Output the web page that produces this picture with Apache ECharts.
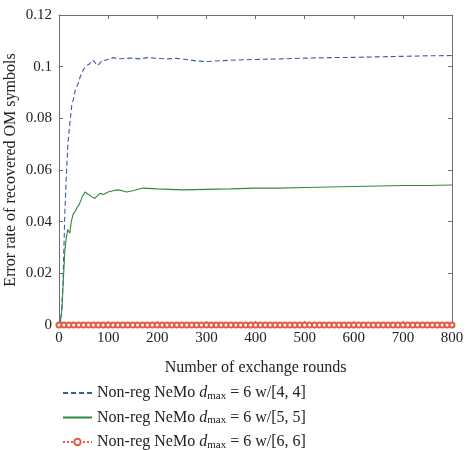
<!DOCTYPE html>
<html>
<head>
<meta charset="utf-8">
<script src="https://cdn.jsdelivr.net/npm/echarts@6/dist/echarts.min.js"></script>
<style>
  html, body { margin: 0; padding: 0; background: #fff; }
  #chart { width: 473px; height: 450px; }
</style>
</head>
<body>
<div id="chart"></div>
<script>
// rounds (x) and error rate (y)
const blueX = [0, 4, 8, 12, 15, 18, 22, 26, 30, 33, 38, 43, 50, 57, 62, 67, 72, 77, 82, 88, 95, 102, 110, 120, 135, 150, 165, 180, 200, 220, 240, 260, 280, 300, 320, 350, 400, 450, 500, 550, 600, 650, 700, 750, 800]
const blueY = [0, 0.001, 0.016, 0.044, 0.058, 0.07, 0.078, 0.085, 0.088, 0.091, 0.093, 0.096, 0.099, 0.1005, 0.101, 0.1025, 0.102, 0.1005, 0.101, 0.1025, 0.1025, 0.103, 0.1035, 0.103, 0.1032, 0.1033, 0.103, 0.1035, 0.1032, 0.103, 0.1032, 0.1028, 0.1022, 0.102, 0.1022, 0.1025, 0.1028, 0.103, 0.1033, 0.1035, 0.1036, 0.1038, 0.104, 0.1042, 0.1043]

const greenX = [0, 3, 6, 9, 12, 15, 18, 22, 25, 29, 33, 37, 42, 47, 50, 53, 57, 60, 63, 68, 73, 78, 84, 90, 100, 110, 118, 128, 138, 150, 171, 200, 253, 300, 350, 400, 450, 500, 550, 600, 650, 700, 750, 800]
const greenY = [0, 0.002, 0.006, 0.018, 0.029, 0.034, 0.037, 0.0355, 0.04, 0.043, 0.044, 0.0455, 0.047, 0.0495, 0.05, 0.0515, 0.051, 0.0505, 0.05, 0.0495, 0.049, 0.05, 0.051, 0.0505, 0.0515, 0.052, 0.0523, 0.052, 0.0515, 0.052, 0.053, 0.0527, 0.0523, 0.0525, 0.0527, 0.053, 0.053, 0.0532, 0.0534, 0.0536, 0.0538, 0.054, 0.054, 0.0542]

const redX = [0, 10, 20, 30, 40, 50, 60, 70, 80, 90, 100, 110, 120, 130, 140, 150, 160, 170, 180, 190, 200, 210, 220, 230, 240, 250, 260, 270, 280, 290, 300, 310, 320, 330, 340, 350, 360, 370, 380, 390, 400, 410, 420, 430, 440, 450, 460, 470, 480, 490, 500, 510, 520, 530, 540, 550, 560, 570, 580, 590, 600, 610, 620, 630, 640, 650, 660, 670, 680, 690, 700, 710, 720, 730, 740, 750, 760, 770, 780, 790, 800]
const redY = [0, 0, 0, 0, 0, 0, 0, 0, 0, 0, 0, 0, 0, 0, 0, 0, 0, 0, 0, 0, 0, 0, 0, 0, 0, 0, 0, 0, 0, 0, 0, 0, 0, 0, 0, 0, 0, 0, 0, 0, 0, 0, 0, 0, 0, 0, 0, 0, 0, 0, 0, 0, 0, 0, 0, 0, 0, 0, 0, 0, 0, 0, 0, 0, 0, 0, 0, 0, 0, 0, 0, 0, 0, 0, 0, 0, 0, 0, 0, 0, 0]

const seriesNames = ['[4, 4]', '[5, 5]', '[6, 6]']

const pairs = (xs, ys) => xs.map((x, i) => [x, ys[i]])

const font = '"Liberation Serif", "DejaVu Serif", serif'
const axisColor = '#707070'
const textColor = '#222'

const chart = echarts.init(document.getElementById('chart'))

const boxAxis = {
  type: 'value',
  axisLine: { show: true, onZero: false, lineStyle: { color: axisColor, width: 1 } },
  axisTick: { show: true, inside: true, length: 4, lineStyle: { color: axisColor } },
  axisLabel: { show: false },
  splitLine: { show: false },
}

const option = {
  animation: false,
  backgroundColor: '#fff',
  textStyle: { fontFamily: font },
  grid: {
    left: 59,
    right: 21,
    top: 15,
    bottom: 125,
    outerBoundsMode: 'none',
    containLabel: false,
  },
  xAxis: [
    {
      type: 'value',
      min: 0,
      max: 800,
      interval: 100,
      name: 'Number of exchange rounds',
      nameLocation: 'middle',
      nameGap: 35,
      nameTextStyle: { color: textColor, fontSize: 16, fontFamily: font },
      axisLine: { show: true, onZero: false, lineStyle: { color: axisColor, width: 1 } },
      axisTick: { show: true, inside: true, length: 4, lineStyle: { color: axisColor } },
      axisLabel: { color: textColor, fontSize: 15, fontFamily: font, margin: 6 },
      splitLine: { show: false },
    },
    Object.assign({}, boxAxis, { position: 'top', min: 0, max: 800, interval: 100 }),
  ],
  yAxis: [
    {
      type: 'value',
      min: 0,
      max: 0.12,
      interval: 0.02,
      name: 'Error rate of recovered OM symbols',
      nameLocation: 'middle',
      nameGap: 40,
      nameMoveOverlap: false,
      nameTextStyle: { color: textColor, fontSize: 16, fontFamily: font },
      axisLine: { show: true, onZero: false, lineStyle: { color: axisColor, width: 1 } },
      axisTick: { show: true, inside: true, length: 4, lineStyle: { color: axisColor } },
      axisLabel: { color: textColor, fontSize: 15, fontFamily: font, margin: 7 },
      splitLine: { show: false },
    },
    Object.assign({}, boxAxis, { position: 'right', min: 0, max: 0.12, interval: 0.02 }),
  ],
  legend: {
    orient: 'vertical',
    left: 62,
    top: 385,
    height: 70,
    padding: 0,
    itemWidth: 29,
    itemHeight: 8,
    itemGap: 8,
    data: [
      { name: seriesNames[0], itemStyle: { opacity: 0 } },
      { name: seriesNames[1], itemStyle: { opacity: 0 } },
      { name: seriesNames[2] },
    ],
    formatter: (name) => '{n|Non-reg NeMo }{d|d}{s|max}{n| = 6 w/' + name + '}',
    textStyle: {
      fontFamily: font,
      color: textColor,
      rich: {
        n: { fontSize: 16, fontFamily: font, color: textColor, lineHeight: 17 },
        d: { fontSize: 16, fontFamily: font, fontStyle: 'italic', color: textColor, lineHeight: 17 },
        s: { fontSize: 11, fontFamily: font, color: textColor, lineHeight: 17, verticalAlign: 'bottom', padding: [5, 0, 0, 0] },
      },
    },
  },
  series: [
    {
      name: seriesNames[0],
      type: 'line',
      showSymbol: false,
      symbol: 'none',
      data: pairs(blueX, blueY),
      lineStyle: { color: '#3a5ba8', width: 1.1, type: [5, 3] },
      itemStyle: { color: '#3a5ba8' },
    },
    {
      name: seriesNames[1],
      type: 'line',
      showSymbol: false,
      symbol: 'none',
      data: pairs(greenX, greenY),
      lineStyle: { color: '#2e8b3e', width: 1.1 },
      itemStyle: { color: '#2e8b3e' },
    },
    {
      name: seriesNames[2],
      type: 'line',
      symbol: 'emptyCircle',
      symbolSize: 5,
      showAllSymbol: true,
      data: pairs(redX, redY),
      lineStyle: { color: '#e85a44', width: 1, type: 'dotted' },
      itemStyle: { color: '#e85a44', borderWidth: 1 },
    },
  ],
}

chart.setOption(option)
</script>
</body>
</html>
